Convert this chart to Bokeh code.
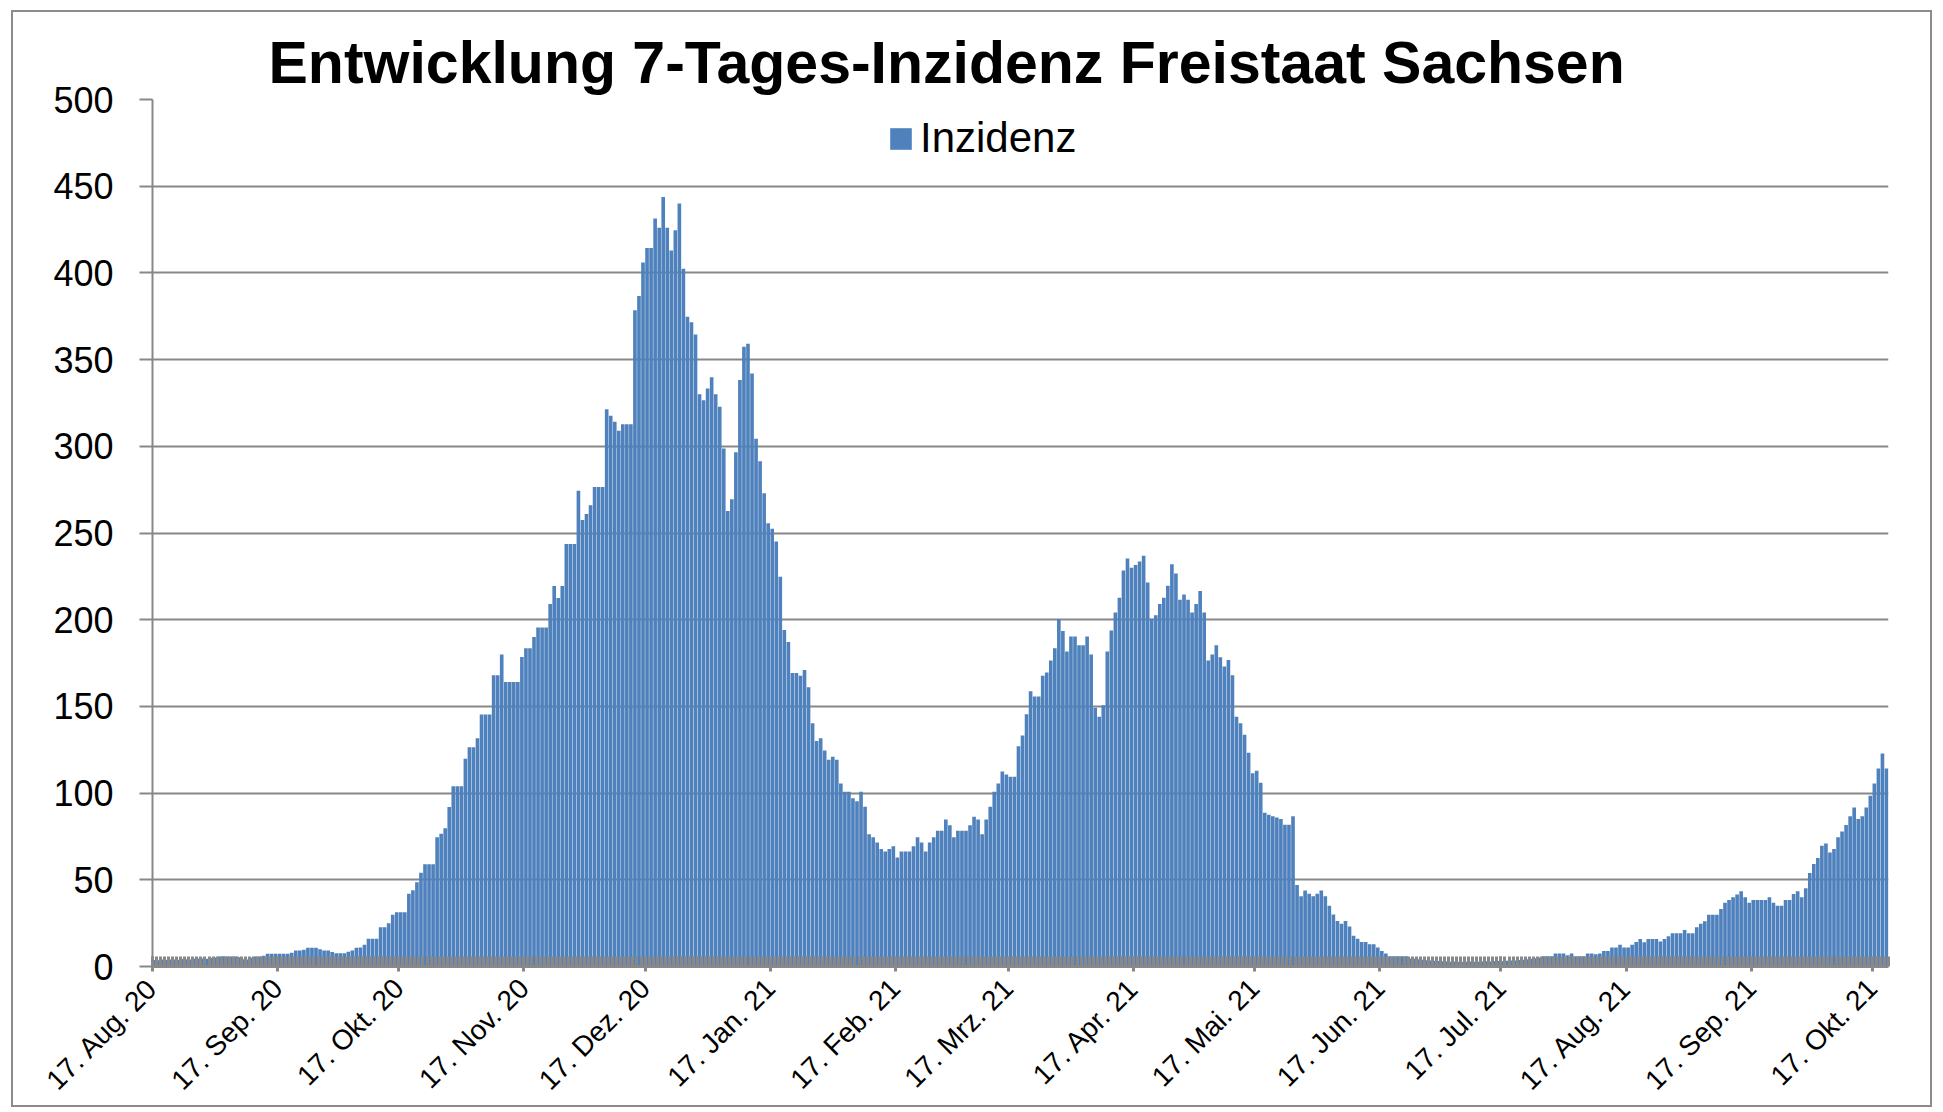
import math
import pandas as pd
from bokeh.plotting import figure
from bokeh.models import FixedTicker, Range1d
from bokeh.embed import file_html
from bokeh.resources import INLINE

# ---------------- data ----------------
start_date = "2020-08-17"
end_date = "2021-10-20"
dates = pd.date_range(start_date, end_date, freq="D")

inzidenz = [
    3.8, 3.6, 4.0, 3.7, 4.1, 4.1, 3.9, 4.3, 4.2, 4.0,
    4.4, 4.6, 4.6, 4.5, 4.9, 5.2, 5.8, 5.9, 5.8, 5.7,
    5.8, 5.4, 4.2, 4.0, 5.0, 5.8, 5.8, 6.2, 7.3, 7.4,
    7.3, 7.3, 7.3, 7.3, 8.0, 9.2, 9.2, 9.6, 10.8, 10.8,
    10.8, 10.0, 9.2, 9.2, 8.3, 7.7, 7.7, 7.6, 8.5, 9.2,
    10.8, 10.9, 12.5, 16.0, 16.0, 16.0, 22.7, 22.7, 25.0, 29.8,
    31.3, 31.3, 31.3, 42.0, 44.0, 48.6, 54.0, 59.0, 59.0, 59.0,
    74.6, 76.5, 79.8, 92.0, 104.0, 104.0, 104.0, 119.8, 126.5, 126.5,
    131.7, 145.4, 145.4, 145.4, 167.9, 168.0, 180.0, 164.0, 164.0, 164.0,
    164.0, 178.5, 183.5, 183.5, 190.0, 195.5, 195.5, 195.5, 209.0, 219.5,
    212.5, 219.5, 243.6, 243.6, 243.6, 274.4, 257.5, 261.0, 266.0, 276.6,
    276.6, 276.6, 321.3, 317.6, 314.2, 309.0, 312.7, 312.7, 312.7, 378.4,
    386.7, 406.0, 414.4, 414.4, 431.4, 426.0, 443.7, 426.0, 412.9, 424.6,
    440.0, 402.4, 374.7, 371.6, 364.5, 330.0, 326.5, 333.3, 339.8, 330.0,
    322.8, 298.8, 262.7, 269.5, 296.6, 338.3, 357.4, 359.2, 342.0, 304.3,
    291.4, 272.9, 255.6, 252.5, 245.1, 224.8, 194.0, 187.2, 169.3, 169.3,
    167.7, 171.0, 161.0, 140.3, 130.0, 131.7, 124.6, 119.3, 121.0, 119.3,
    105.5, 100.8, 100.8, 97.0, 95.3, 100.8, 92.2, 76.2, 74.6, 71.5,
    67.8, 66.3, 67.8, 69.4, 62.9, 66.3, 66.3, 66.3, 69.4, 74.6,
    71.5, 66.3, 71.5, 74.6, 78.3, 78.3, 84.8, 81.4, 74.6, 78.3,
    78.3, 78.3, 81.4, 86.3, 84.8, 76.2, 84.8, 92.2, 100.8, 105.5,
    112.5, 110.7, 109.5, 109.5, 127.0, 133.2, 145.5, 158.8, 155.7, 155.7,
    167.7, 169.6, 176.4, 183.5, 200.4, 193.5, 181.6, 190.3, 190.3, 185.3,
    185.3, 190.3, 180.0, 149.2, 144.0, 150.6, 181.7, 193.8, 204.2, 212.7,
    228.4, 235.3, 230.0, 231.5, 233.5, 236.9, 221.4, 200.6, 202.6, 209.1,
    212.7, 219.6, 232.0, 226.6, 211.5, 214.5, 211.5, 204.2, 209.1, 216.5,
    204.2, 176.4, 180.0, 185.3, 178.4, 173.0, 176.8, 167.9, 144.0, 140.3,
    133.7, 123.2, 111.5, 112.9, 106.0, 88.7, 87.5, 86.7, 86.0, 85.1,
    81.7, 81.7, 86.7, 47.0, 40.5, 43.8, 41.9, 40.5, 41.9, 43.8,
    40.5, 35.1, 30.0, 26.2, 24.6, 26.2, 23.0, 17.7, 16.0, 14.2,
    14.2, 12.8, 12.8, 10.9, 9.0, 7.5, 5.9, 5.9, 5.9, 5.9,
    5.9, 4.6, 4.4, 4.2, 3.9, 3.6, 3.4, 3.3, 3.1, 3.0,
    2.9, 2.8, 2.9, 2.7, 2.6, 2.8, 2.9, 2.7, 2.8, 2.9,
    3.0, 2.9, 3.1, 3.2, 3.0, 3.3, 3.5, 3.4, 3.7, 3.9,
    4.2, 4.4, 4.8, 5.2, 5.9, 5.9, 5.9, 7.5, 7.5, 7.5,
    6.5, 7.5, 5.9, 5.9, 5.9, 7.5, 7.5, 7.0, 7.5, 9.0,
    9.0, 10.9, 10.9, 12.6, 10.9, 10.9, 12.6, 14.2, 15.9, 14.0,
    15.9, 15.9, 15.9, 14.4, 15.9, 17.5, 19.2, 19.2, 19.2, 21.1,
    19.2, 19.2, 22.6, 24.6, 26.1, 29.8, 29.8, 29.8, 33.2, 36.7,
    38.4, 39.9, 41.5, 43.4, 39.9, 36.7, 38.4, 38.4, 38.4, 38.4,
    39.9, 36.7, 35.1, 35.1, 38.4, 38.4, 41.8, 43.4, 39.9, 45.1,
    53.9, 59.1, 62.6, 69.7, 71.0, 65.8, 67.8, 74.5, 77.9, 81.6,
    86.6, 91.7, 85.0, 86.6, 91.7, 98.5, 105.6, 114.2, 122.8, 114.2,
]

tick_dates = [
    "2020-08-17", "2020-09-17", "2020-10-17", "2020-11-17", "2020-12-17",
    "2021-01-17", "2021-02-17", "2021-03-17", "2021-04-17", "2021-05-17",
    "2021-06-17", "2021-07-17", "2021-08-17", "2021-09-17", "2021-10-17",
]
tick_labels = [
    "17. Aug. 20", "17. Sep. 20", "17. Okt. 20", "17. Nov. 20", "17. Dez. 20",
    "17. Jan. 21", "17. Feb. 21", "17. Mrz. 21", "17. Apr. 21", "17. Mai. 21",
    "17. Jun. 21", "17. Jul. 21", "17. Aug. 21", "17. Sep. 21", "17. Okt. 21",
]
y_ticks = [0, 50, 100, 150, 200, 250, 300, 350, 400, 450, 500]
title_text = "Entwicklung 7-Tages-Inzidenz Freistaat Sachsen"
series_name = "Inzidenz"

# ---------------- derived positions (day index on a linear axis) ----------------
assert len(inzidenz) == len(dates)
day_index = [(d - dates[0]).days for d in dates]
x_centers = [i + 0.5 for i in day_index]
major_ticks = [(pd.Timestamp(t) - dates[0]).days for t in tick_dates]
minor_ticks = list(range(len(dates) + 1))

FONT = "Liberation Sans"
GRAY = "#888888"
BLUE = "#4F81BD"

p = figure(
    width=1921, height=1097,
    x_range=Range1d(0, len(dates)), y_range=Range1d(0, 500),
    output_backend="svg", toolbar_location=None,
    title=title_text,
    min_border_left=139, min_border_right=46,
    min_border_top=87, min_border_bottom=141,
)
p.styles = {"border": "2px solid #8c8c8c", "margin": "10px 0px 0px 11px"}
p.outline_line_color = None
p.background_fill_color = "white"
p.border_fill_color = "white"

p.title.text_font = FONT
p.title.text_font_style = "bold"
p.title.text_font_size = "59px"
p.title.text_color = "black"
p.title.align = "left"
p.title.offset = 116
p.title.standoff = 8

p.vbar(x=x_centers, top=inzidenz, width=0.9, fill_color=BLUE,
       line_color=None, legend_label=series_name)

# y axis
yax = p.yaxis[0]
yax.ticker = FixedTicker(ticks=y_ticks)
yax.major_label_text_font = FONT
yax.major_label_text_font_size = "36px"
yax.major_label_text_color = "black"
yax.axis_line_color = GRAY
yax.axis_line_width = 2
yax.major_tick_out = 13
yax.major_tick_in = 0
yax.major_tick_line_color = GRAY
yax.major_tick_line_width = 2
yax.minor_tick_line_color = None
yax.major_label_standoff = 26

p.ygrid.grid_line_color = GRAY
p.ygrid.grid_line_width = 2
p.xgrid.grid_line_color = None

# x axis
xax = p.xaxis[0]
xax.ticker = FixedTicker(ticks=major_ticks, minor_ticks=minor_ticks)
xax.major_label_overrides = {t: lbl for t, lbl in zip(major_ticks, tick_labels)}
xax.major_label_orientation = math.pi / 4
xax.major_label_text_font = FONT
xax.major_label_text_font_size = "28px"
xax.major_label_text_color = "black"
xax.major_label_standoff = 12
xax.axis_line_color = GRAY
xax.axis_line_width = 3
xax.major_tick_in = 10
xax.major_tick_out = 5
xax.major_tick_line_color = GRAY
xax.major_tick_line_width = 3
xax.minor_tick_in = 10
xax.minor_tick_out = 0
xax.minor_tick_line_color = GRAY
xax.minor_tick_line_width = 3

# legend
lg = p.legend[0]
lg.location = (735, 804)
lg.border_line_color = None
lg.background_fill_alpha = 0
lg.padding = 0
lg.margin = 0
lg.spacing = 0
lg.glyph_width = 27
lg.glyph_height = 27
lg.label_height = 46
lg.label_standoff = 6
lg.label_text_font = FONT
lg.label_text_font_size = "42px"
lg.label_text_color = "black"

open("out.html", "w").write(file_html(p, INLINE, title=title_text))
